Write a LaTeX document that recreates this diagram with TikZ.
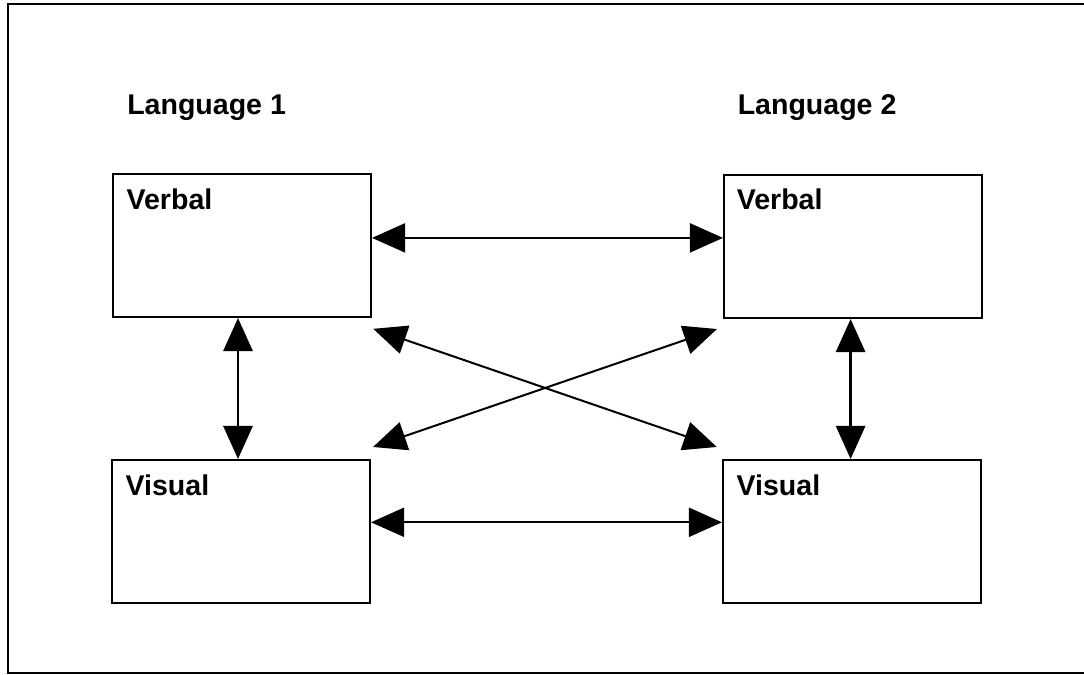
\documentclass[tikz,border=0pt]{standalone}
\usepackage{fontspec}
\setmainfont{Liberation Sans}
\usepackage{tikz}
\usetikzlibrary{
  arrows.meta,
  positioning,
  calc
}
\tikzset{
  langbox/.style={
    rectangle, draw=black, line width=0.05cm, fill=white,
    minimum width=6.45cm, minimum height=3.575cm, inner sep=0pt
  },
  boxtitle/.style={
    anchor=base west, inner sep=0pt,
    font=\fontsize{20.3}{24}\selectfont\bfseries
  },
  arrowBoth/.style={
    {Triangle[length=0.83cm, width=0.73cm]}-{Triangle[length=0.83cm, width=0.73cm]},
    line width=0.05cm, black
  },
  frame/.style={draw=black, line width=0.05cm}
}

\begin{document}
\begin{tikzpicture}[x=0.025cm, y=-0.025cm]
\clip (0,0) rectangle (1084,675);
\useasboundingbox (0,0) rectangle (1084,675);
\draw[frame] (8,4) rectangle (1100,673);

% headings
\node[boxtitle] (lang1) at (127,115) {Language 1};
\node[boxtitle] (lang2) at (737.5,115) {Language 2};

% boxes
\node[langbox] (l1verbal) at (242,245.5) {};
\node[langbox] (l1visual) at (241,531.5) {};
\node[langbox] (l2verbal) at (853,246.5) {};
\node[langbox] (l2visual) at (852,531.5) {};

\node[boxtitle] (l1verbaltxt) at ($(l1verbal.north west)+(0.36cm,-0.92cm)$) {Verbal};
\node[boxtitle] (l1visualtxt) at ($(l1visual.north west)+(0.36cm,-0.92cm)$) {Visual};
\node[boxtitle] (l2verbaltxt) at ($(l2verbal.north west)+(0.34cm,-0.9cm)$) {Verbal};
\node[boxtitle] (l2visualtxt) at ($(l2visual.north west)+(0.36cm,-0.92cm)$) {Visual};

% connectors
\draw[arrowBoth] ([yshift=0.19cm]l1verbal.east) -- ([yshift=0.19cm]l1verbal.east -| l2verbal.west);
\draw[arrowBoth] ([yshift=0.23cm]l1visual.east) -- ([yshift=0.23cm]l1visual.east -| l2visual.west);
\draw[arrowBoth, line width=0.07cm] ([xshift=-0.1cm]l1verbal.south) -- ([xshift=-0.1cm]l1verbal.south |- l1visual.north);
\draw[arrowBoth, line width=0.07cm] ([xshift=-0.06cm]l2verbal.south) -- ([xshift=-0.06cm]l2verbal.south |- l2visual.north);
\draw[arrowBoth] ([shift={(0.03cm,-0.27cm)}]l1verbal.south east) -- ([shift={(-0.13cm,0.3cm)}]l2visual.north west);
\draw[arrowBoth] ([shift={(0.05cm,0.3cm)}]l1visual.north east) -- ([shift={(-0.15cm,-0.25cm)}]l2verbal.south west);
\end{tikzpicture}
\end{document}
